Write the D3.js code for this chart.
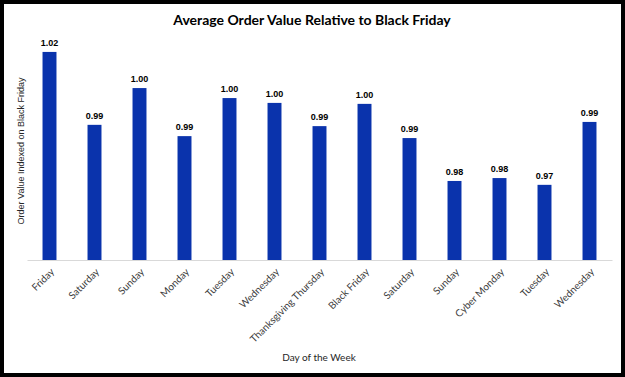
<!DOCTYPE html>
<html>
<head>
<meta charset="utf-8">
<script src="https://cdn.jsdelivr.net/npm/d3@7"></script>
<style>
  body { margin: 0; background: #fff; }
</style>
</head>
<body>
<script>
// datos
const dias = ["Friday", "Saturday", "Sunday", "Monday", "Tuesday", "Wednesday",
  "Thanksgiving Thursday", "Black Friday", "Saturday", "Sunday", "Cyber Monday",
  "Tuesday", "Wednesday"]
const valores = [1.0161, 0.9935, 1.0049, 0.9900, 1.0018, 1.0003, 0.9931,
  1.0000, 0.9894, 0.9761, 0.9770, 0.9749, 0.9944]
const yDominio = [0.9516, 1.0229]

const ancho = 625, alto = 377
const svg = d3.select("body").append("svg")
  .attr("width", ancho)
  .attr("height", alto)

// marco negro
svg.append("rect")
  .attr("x", 2).attr("y", 2)
  .attr("width", ancho - 4).attr("height", alto - 4)
  .attr("fill", "#fff")
  .attr("stroke", "#000")
  .attr("stroke-width", 4)

const x = d3.scaleBand()
  .domain(d3.range(dias.length))
  .range([27, 612])
  .paddingInner(0.69)
  .paddingOuter(0.345)

const y = d3.scaleLinear()
  .domain(yDominio)
  .range([260, 30])

svg.append("text")
  .attr("x", 312).attr("y", 25)
  .attr("text-anchor", "middle")
  .style("font-family", "Lato, sans-serif")
  .style("font-weight", "bold")
  .style("font-size", "14px")
  .text("Average Order Value Relative to Black Friday")

// barras
svg.selectAll("rect.barra")
  .data(valores)
  .join("rect")
  .attr("class", "barra")
  .attr("x", (d, i) => x(i))
  .attr("width", x.bandwidth())
  .attr("y", d => y(d))
  .attr("height", d => y(yDominio[0]) - y(d))
  .attr("fill", "#0a33ac")

svg.selectAll("text.valor")
  .data(valores)
  .join("text")
  .attr("class", "valor")
  .attr("x", (d, i) => x(i) + x.bandwidth() / 2)
  .attr("y", d => y(d) - 6)
  .attr("text-anchor", "middle")
  .style("font-family", "'Liberation Sans', Arial, sans-serif")
  .style("font-weight", "bold")
  .style("font-size", "9px")
  .text(d => d3.format(".2f")(d))

// eje x
const ejeX = svg.append("g")
  .attr("transform", "translate(0,260)")
  .call(d3.axisBottom(x).tickSize(0).tickFormat(i => dias[i]))
ejeX.select(".domain").attr("stroke", "#d9d9d9").attr("stroke-width", 1)
ejeX.selectAll("text")
  .attr("text-anchor", "end")
  .attr("dy", "0.35em")
  .attr("x", 0).attr("y", 0)
  .attr("transform", "translate(3,10) rotate(-45)")
  .style("font-family", "Lato, sans-serif")
  .style("font-size", "10px")
  .attr("fill", "#404040")

svg.append("text")
  .attr("x", 319).attr("y", 361)
  .attr("text-anchor", "middle")
  .style("font-family", "Lato, sans-serif")
  .style("font-size", "10px")
  .attr("fill", "#262626")
  .text("Day of the Week")

svg.append("text")
  .attr("transform", "translate(24,151) rotate(-90)")
  .attr("text-anchor", "middle")
  .style("font-family", "'Liberation Sans', Arial, sans-serif")
  .style("font-size", "9px")
  .attr("fill", "#262626")
  .text("Order Value Indexed on Black  Friday")
</script>
</body>
</html>
